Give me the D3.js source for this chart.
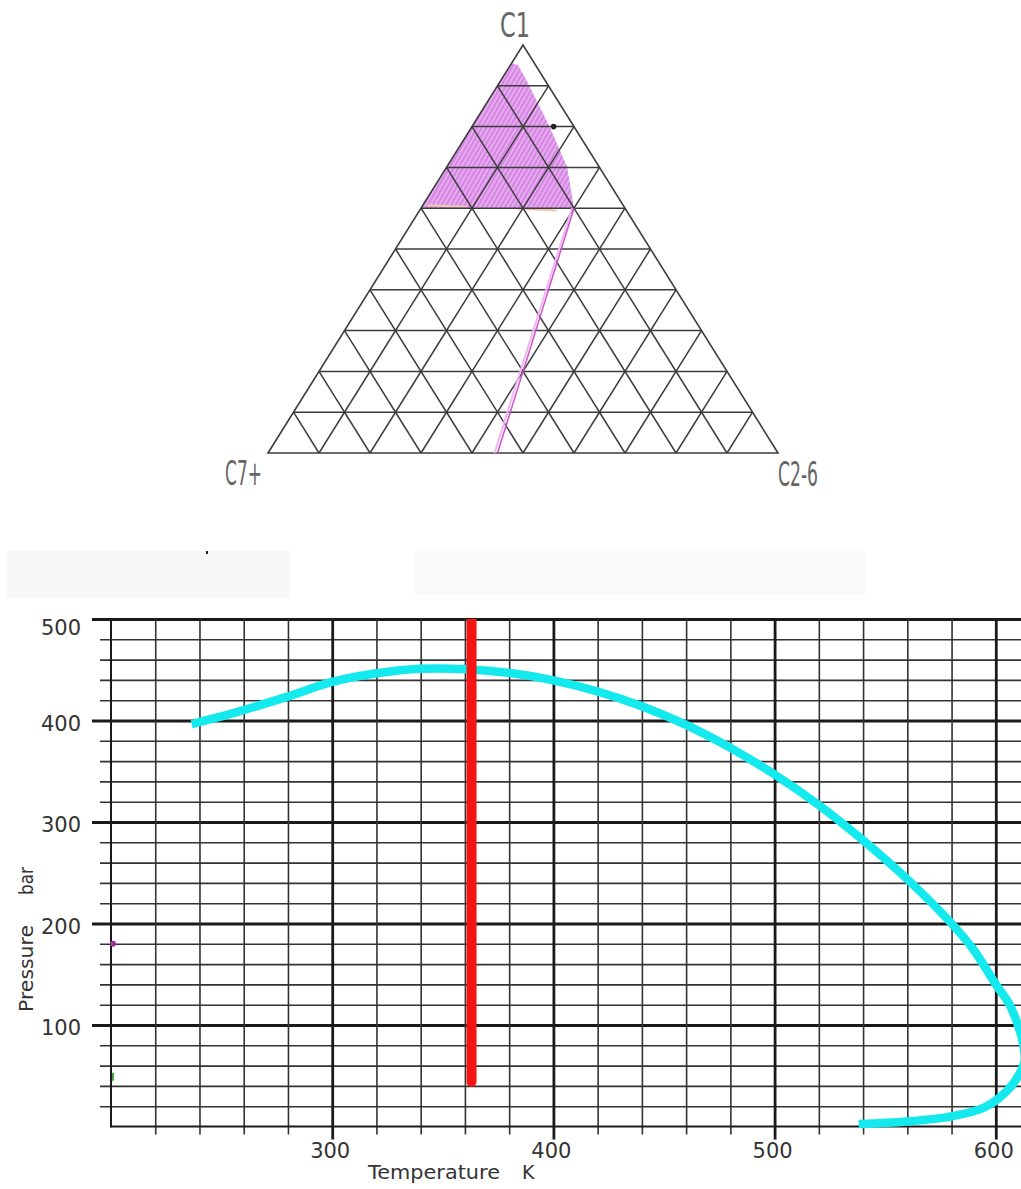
<!DOCTYPE html>
<html>
<head>
<meta charset="utf-8">
<script src="https://cdn.jsdelivr.net/npm/d3@7"></script>
<style>
  body { margin: 0; background: #fff; }
  svg { display: block; }
</style>
</head>
<body>
<div id="chart"></div>
<script>
// ternary diagram data, compositions as [C1, C7+, C2-6]
var cornerLabels = ["C1", "C7+", "C2-6"];
var gridFractions = [0.1, 0.2, 0.3, 0.4, 0.5, 0.6, 0.7, 0.8, 0.9];
var twoPhaseRegion = [[0.955, 0.045, 0], [0.951, 0.034, 0.015], [0.907, 0.037, 0.056], [0.799, 0.048, 0.153],
                      [0.701, 0.063, 0.236], [0.6, 0.1, 0.3], [0.6, 0.4, 0]];
var dilutionLine = [[0.6, 0.1, 0.3], [0, 0.55, 0.45]];
var feedPoint = [0.8, 0.04, 0.16];

// phase envelope data
var tempTicks = [300, 400, 500, 600];
var presTicks = [100, 200, 300, 400, 500];
var envelopeT = [236.5, 258, 279, 300, 320, 340, 361, 383, 400, 420, 440, 460, 480, 500, 520, 540, 560, 580, 590, 600, 606, 610, 612.5, 613, 611, 605, 595, 580, 560, 538];
var envelopeP = [396.5, 409, 423, 438, 446.5, 451, 450.5, 446, 439.6, 428.6, 414, 395.6, 373, 346.8, 316.7, 282, 243.6, 200, 174, 140, 121, 100, 80, 65, 53, 35, 19, 10, 5, 2.5];
var isothermT = 363;
var isothermP = [44, 500];
var markerT = [200, 200];
var markerP = [180, 49];

var svg = d3.select("#chart")
  .append("svg")
  .attr("width", 1021).attr("height", 1189);

svg.append("rect").attr("width", 1021).attr("height", 1189).attr("fill", "#fff");

// faint smudges between the two charts
svg.append("rect").attr("x", 7).attr("y", 551).attr("width", 283).attr("height", 47).attr("fill", "#f8f8f8");
svg.append("rect").attr("x", 415).attr("y", 551).attr("width", 450).attr("height", 44).attr("fill", "#f9f9f9");
svg.append("rect").attr("x", 206).attr("y", 551).attr("width", 2).attr("height", 3).attr("fill", "#222");

// ---------- ternary ----------
var tx = d3.scaleLinear().domain([0, 1]).range([268, 778]);
var ty = d3.scaleLinear().domain([0, 1]).range([453, 45]);
function tern(p) { return [tx(p[2] + p[0] / 2), ty(p[0])]; }

var defs = svg.append("defs");
var pat = defs.append("pattern")
  .attr("id", "hatch")
  .attr("patternUnits", "userSpaceOnUse")
  .attr("width", 4).attr("height", 4)
  .attr("patternTransform", "rotate(30)");
pat.append("rect").attr("width", 4).attr("height", 4).attr("fill", "#e9aaf2");
pat.append("line").attr("x1", 1).attr("y1", 0).attr("x2", 1).attr("y2", 4)
  .attr("stroke", "#c370d4").attr("stroke-width", 1.2);

var tg = svg.append("g");

tg.append("path")
  .attr("d", d3.line().curve(d3.curveLinearClosed)(twoPhaseRegion.map(tern)))
  .attr("fill", "url(#hatch)");

// tan edge along bottom of region
tg.append("line")
  .attr("x1", tern(twoPhaseRegion[6])[0] + 6).attr("y1", tern(twoPhaseRegion[6])[1] - 3)
  .attr("x2", tern(twoPhaseRegion[5])[0]).attr("y2", tern(twoPhaseRegion[5])[1] + 3)
  .attr("stroke", "#efc9b0").attr("stroke-width", 2).attr("stroke-dasharray", "40,50");

var gridLines = [];
gridFractions.forEach(function(f) {
  gridLines.push([[f, 1 - f, 0], [f, 0, 1 - f]]);
  gridLines.push([[0, 1 - f, f], [1 - f, 0, f]]);
  gridLines.push([[0, f, 1 - f], [1 - f, f, 0]]);
});
tg.selectAll("line.grid")
  .data(gridLines)
  .enter().append("line")
  .attr("class", "grid")
  .attr("x1", function(d) { return tern(d[0])[0]; })
  .attr("y1", function(d) { return tern(d[0])[1]; })
  .attr("x2", function(d) { return tern(d[1])[0]; })
  .attr("y2", function(d) { return tern(d[1])[1]; })
  .attr("stroke", "#3c3c3c").attr("stroke-width", 1.5);

tg.append("path")
  .attr("d", d3.line()([[1, 0, 0], [0, 1, 0], [0, 0, 1]].map(tern)) + "Z")
  .attr("fill", "none").attr("stroke", "#3c3c3c").attr("stroke-width", 1.6);

// dilution line
var dl = dilutionLine.map(tern);
tg.append("line")
  .attr("x1", dl[0][0] - 2).attr("y1", dl[0][1]).attr("x2", dl[1][0] - 3).attr("y2", dl[1][1])
  .attr("stroke", "#f0b8f0").attr("stroke-width", 2);
tg.append("line")
  .attr("x1", dl[0][0]).attr("y1", dl[0][1]).attr("x2", dl[1][0]).attr("y2", dl[1][1])
  .attr("stroke", "#cc55cc").attr("stroke-width", 1.5);

tg.append("circle")
  .attr("cx", tern(feedPoint)[0]).attr("cy", tern(feedPoint)[1])
  .attr("r", 2.8).attr("fill", "#222");

var labelPos = [[500, 37, 30], [225, 485, 37], [778, 486, 40]];
tg.selectAll("text.corner")
  .data(cornerLabels)
  .enter().append("text")
  .attr("class", "corner")
  .attr("x", function(d, i) { return labelPos[i][0]; })
  .attr("y", function(d, i) { return labelPos[i][1]; })
  .attr("textLength", function(d, i) { return labelPos[i][2]; })
  .attr("lengthAdjust", "spacingAndGlyphs")
  .attr("font-family", "'Liberation Sans Narrow', 'DejaVu Sans Condensed', sans-serif")
  .attr("font-size", 33)
  .attr("fill", "#666")
  .text(function(d) { return d; });

// ---------- P-T chart ----------
var x = d3.scaleLinear().domain([200, 620]).range([111, 111 + 420 * 2.212]);
var y = d3.scaleLinear().domain([0, 500]).range([1126.5, 619]);
var minorT = d3.range(220, 621, 20);
var minorP = d3.range(20, 501, 20);

var pg = svg.append("g");

var yAx = pg.append("g")
  .attr("transform", "translate(111,0)")
  .call(d3.axisLeft(y).tickValues(minorP).tickSize(0).tickFormat(""));
yAx.select(".domain").remove();
yAx.selectAll(".tick line")
  .attr("x1", function(d) { return d % 100 === 0 ? -19 : -11; })
  .attr("x2", 1021)
  .attr("stroke", function(d) { return d % 100 === 0 ? "#1a1a1a" : "#333"; })
  .attr("stroke-width", function(d) { return d % 100 === 0 ? 2.8 : 1.6; });

var xAx = pg.append("g")
  .attr("transform", "translate(0,1126.5)")
  .call(d3.axisBottom(x).tickValues(minorT).tickSize(0).tickFormat(""));
xAx.select(".domain").remove();
xAx.selectAll(".tick line")
  .attr("y1", function(d) { return d % 100 === 0 ? 13 : 8; })
  .attr("y2", -507.5)
  .attr("stroke", function(d) { return d % 100 === 0 ? "#1a1a1a" : "#333"; })
  .attr("stroke-width", function(d) { return d % 100 === 0 ? 2.8 : 1.6; });

// frame: left and bottom
pg.append("line").attr("x1", 111).attr("x2", 111).attr("y1", 619).attr("y2", 1127.5)
  .attr("stroke", "#1a1a1a").attr("stroke-width", 2);
pg.append("line").attr("x1", 111).attr("x2", 1021).attr("y1", 1126.5).attr("y2", 1126.5)
  .attr("stroke", "#1a1a1a").attr("stroke-width", 2);

var labelFont = "'DejaVu Sans', sans-serif";

pg.selectAll("text.ylab")
  .data(presTicks)
  .enter().append("text")
  .attr("class", "ylab")
  .attr("x", 81)
  .attr("y", function(d) { return d === 500 ? y(d) + 16 : y(d) + 10; })
  .attr("text-anchor", "end")
  .attr("font-family", labelFont)
  .attr("font-size", 21)
  .attr("fill", "#333")
  .text(function(d) { return d; });

pg.selectAll("text.xlab")
  .data(tempTicks)
  .enter().append("text")
  .attr("class", "xlab")
  .attr("x", function(d) { return x(d) - 2; })
  .attr("y", 1158)
  .attr("text-anchor", "middle")
  .attr("font-family", labelFont)
  .attr("font-size", 21)
  .attr("fill", "#333")
  .text(function(d) { return d; });

pg.append("text")
  .attr("x", 368).attr("y", 1179)
  .attr("textLength", 132).attr("lengthAdjust", "spacingAndGlyphs")
  .attr("font-family", labelFont).attr("font-size", 19).attr("fill", "#333")
  .text("Temperature");
pg.append("text")
  .attr("x", 522).attr("y", 1179)
  .attr("font-family", labelFont).attr("font-size", 19).attr("fill", "#333")
  .text("K");
pg.append("text")
  .attr("transform", "translate(33,1012) rotate(-90)")
  .attr("textLength", 87).attr("lengthAdjust", "spacingAndGlyphs")
  .attr("font-family", labelFont).attr("font-size", 20).attr("fill", "#333")
  .text("Pressure");
pg.append("text")
  .attr("transform", "translate(33,895) rotate(-90)")
  .attr("textLength", 28).attr("lengthAdjust", "spacingAndGlyphs")
  .attr("font-family", labelFont).attr("font-size", 20).attr("fill", "#333")
  .text("bar");

// clip curves at top of plot
defs.append("clipPath").attr("id", "plotclip")
  .append("rect").attr("x", 0).attr("y", 619).attr("width", 1021).attr("height", 570);

var cg = pg.append("g").attr("clip-path", "url(#plotclip)");

var envPts = envelopeT.map(function(t, i) { return [x(t), y(envelopeP[i])]; });
cg.append("path")
  .attr("d", d3.line().curve(d3.curveCatmullRom.alpha(0.5))(envPts))
  .attr("fill", "none")
  .attr("stroke", "#14e9ee")
  .attr("stroke-width", 8.5)
  .attr("stroke-linecap", "butt");

cg.append("line")
  .attr("x1", x(isothermT)).attr("x2", x(isothermT))
  .attr("y1", y(isothermP[0])).attr("y2", y(isothermP[1]) - 10)
  .attr("stroke", "#f41414")
  .attr("stroke-width", 10)
  .attr("stroke-linecap", "round");

pg.append("circle").attr("cx", x(markerT[0]) + 2).attr("cy", y(markerP[0])).attr("r", 3).attr("fill", "#993399");
pg.append("rect").attr("x", x(markerT[1]) + 1).attr("y", y(markerP[1]) - 4).attr("width", 2).attr("height", 8).attr("fill", "#44aa44");
</script>
</body>
</html>
